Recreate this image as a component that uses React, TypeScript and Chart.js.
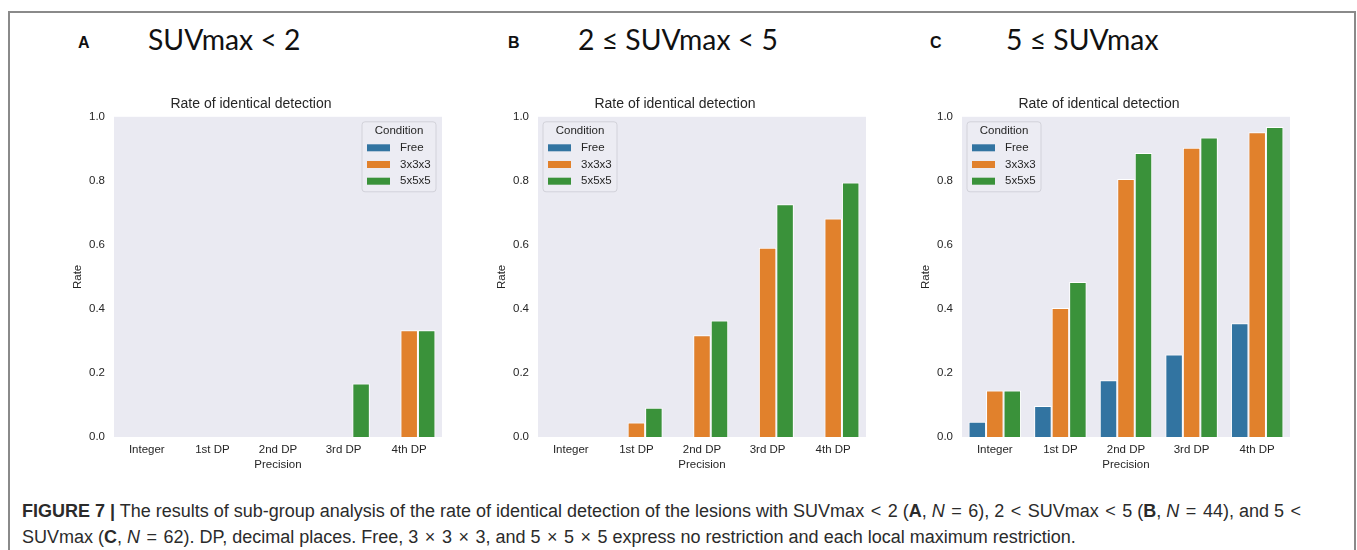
import React, { useEffect, useRef } from "react";
import { Chart, registerables } from "chart.js";

Chart.register(...registerables);

// ---------- DATA ----------
const categories = ["Integer", "1st DP", "2nd DP", "3rd DP", "4th DP"];
const conditions = ["Free", "3x3x3", "5x5x5"];
const yTickValues = [0, 0.2, 0.4, 0.6, 0.8, 1.0];

const panelAFree = [0, 0, 0, 0, 0];
const panelA3x3x3 = [0, 0, 0, 0, 0.333];
const panelA5x5x5 = [0, 0, 0, 0.167, 0.333];

const panelBFree = [0, 0, 0, 0, 0];
const panelB3x3x3 = [0, 0.045, 0.318, 0.591, 0.682];
const panelB5x5x5 = [0, 0.091, 0.364, 0.727, 0.795];

const panelCFree = [0.048, 0.097, 0.177, 0.258, 0.355];
const panelC3x3x3 = [0.145, 0.403, 0.806, 0.903, 0.952];
const panelC5x5x5 = [0.145, 0.484, 0.887, 0.935, 0.968];

const colors = ["#3274a1", "#e1812c", "#3a923a"];

const FONT = '"Liberation Sans", Arial, Helvetica, sans-serif';
const TEXT = "#262626";

// ---------- PLUGINS ----------
const bgPlugin = {
  id: "plotBg",
  beforeDatasetsDraw(chart: any) {
    const { ctx, chartArea } = chart;
    ctx.save();
    ctx.fillStyle = "#eaeaf2";
    ctx.fillRect(chartArea.left, chartArea.top, chartArea.right - chartArea.left, chartArea.bottom - chartArea.top);
    ctx.restore();
  },
};

const insideLegend = {
  id: "insideLegend",
  afterDraw(chart: any, _args: any, opts: any) {
    const { ctx, chartArea } = chart;
    const w = 74;
    const h = 70;
    const x = opts.side === "right" ? chartArea.right - 6 - w : chartArea.left + 5;
    const y = chartArea.top + 5;
    ctx.save();
    const r = 3;
    ctx.beginPath();
    ctx.moveTo(x + r, y);
    ctx.lineTo(x + w - r, y);
    ctx.arcTo(x + w, y, x + w, y + r, r);
    ctx.lineTo(x + w, y + h - r);
    ctx.arcTo(x + w, y + h, x + w - r, y + h, r);
    ctx.lineTo(x + r, y + h);
    ctx.arcTo(x, y + h, x, y + h - r, r);
    ctx.lineTo(x, y + r);
    ctx.arcTo(x, y, x + r, y, r);
    ctx.closePath();
    ctx.fillStyle = "rgba(236,236,243,0.9)";
    ctx.fill();
    ctx.strokeStyle = "#d2d2da";
    ctx.lineWidth = 1;
    ctx.stroke();
    ctx.font = `11.5px ${FONT}`;
    ctx.fillStyle = TEXT;
    ctx.textAlign = "center";
    ctx.textBaseline = "middle";
    ctx.fillText("Condition", x + w / 2, y + 9.5);
    chart.data.datasets.forEach((ds: any, i: number) => {
      const cy = y + 26 + i * 16.7;
      ctx.fillStyle = ds.backgroundColor;
      ctx.fillRect(x + 5, cy - 3.5, 23, 7);
      ctx.fillStyle = TEXT;
      ctx.textAlign = "left";
      ctx.fillText(ds.label, x + 38, cy);
    });
    ctx.restore();
  },
};

// ---------- PANEL ----------
function Panel(props: { left: number; series: number[][]; side: "left" | "right" }) {
  const ref = useRef<HTMLCanvasElement | null>(null);
  useEffect(() => {
    if (!ref.current) return;
    const tickFont = { family: FONT, size: 11.5 };
    const chart = new Chart(ref.current, {
      type: "bar",
      data: {
        labels: categories,
        datasets: conditions.map((c, i) => ({
          label: c,
          data: props.series[i],
          backgroundColor: colors[i],
          borderColor: "#ffffff",
          borderWidth: 1,
          categoryPercentage: 0.8,
          barPercentage: 1.0,
        })),
      },
      options: {
        animation: false,
        responsive: false,
        devicePixelRatio: 1,
        layout: { padding: { left: 0, right: 18, top: 0, bottom: 0 } },
        plugins: {
          legend: { display: false },
          tooltip: { enabled: false },
          title: {
            display: true,
            text: "Rate of identical detection",
            color: TEXT,
            font: { family: FONT, size: 14, weight: "normal" },
            padding: { top: 8, bottom: 4 },
          },
          insideLegend: { side: props.side },
        } as any,
        scales: {
          x: {
            grid: { display: false, drawTicks: false },
            border: { display: false },
            ticks: { font: tickFont, color: TEXT, padding: 6, maxRotation: 0, autoSkip: false },
            title: { display: true, text: "Precision", color: TEXT, font: tickFont, padding: { top: 0, bottom: 8 } },
            afterFit: (s: any) => {
              s.height = 43;
            },
          },
          y: {
            min: 0,
            max: 1,
            afterBuildTicks: (s: any) => {
              s.ticks = yTickValues.map((v) => ({ value: v }));
            },
            ticks: {
              font: tickFont,
              color: TEXT,
              padding: 9,
              callback: (v: any) => Number(v).toFixed(1),
            },
            grid: { display: false, drawTicks: false },
            border: { display: false },
            title: { display: true, text: "Rate", color: TEXT, font: tickFont, padding: { top: 11, bottom: 0 } },
            afterFit: (s: any) => {
              s.width = 54;
            },
          },
        },
      } as any,
      plugins: [bgPlugin, insideLegend],
    });
    return () => chart.destroy();
  }, []);
  return (
    <canvas
      ref={ref}
      width={400}
      height={392}
      style={{ position: "absolute", left: props.left, top: 88, width: 400, height: 392 }}
    />
  );
}

const headerStyle: React.CSSProperties = {
  position: "absolute",
  top: 25,
  fontFamily: "Lato, 'Open Sans', sans-serif",
  fontSize: 28.3,
  lineHeight: "29px",
  color: "#111",
  whiteSpace: "nowrap",
};
const letterStyle: React.CSSProperties = {
  position: "absolute",
  top: 35,
  fontFamily: FONT,
  fontWeight: "bold",
  fontSize: 16,
  lineHeight: "16px",
  color: "#111",
};

const M = (s: string) => <span style={{ margin: "0 1.5px" }}>{s}</span>;

export default function App() {
  return (
    <div
      style={{
        position: "absolute",
        left: 0,
        top: 0,
        width: 1357,
        height: 550,
        background: "#fff",
        overflow: "hidden",
      }}
    >
      <div
        style={{
          position: "absolute",
          left: 8,
          top: 11,
          width: 1348,
          height: 700,
          boxSizing: "border-box",
          borderLeft: "2px solid #8a8a8a",
          borderTop: "2px solid #8a8a8a",
          borderRight: "2px solid #8a8a8a",
        }}
      />
      <div style={{ ...letterStyle, left: 78 }}>A</div>
      <div style={{ ...headerStyle, left: 148 }}>SUVmax &lt; 2</div>
      <div style={{ ...letterStyle, left: 508 }}>B</div>
      <div style={{ ...headerStyle, left: 578 }}>2 ≤ SUVmax &lt; 5</div>
      <div style={{ ...letterStyle, left: 930 }}>C</div>
      <div style={{ ...headerStyle, left: 1006 }}>5 ≤ SUVmax</div>

      <Panel left={60} series={[panelAFree, panelA3x3x3, panelA5x5x5]} side="right" />
      <Panel left={484} series={[panelBFree, panelB3x3x3, panelB5x5x5]} side="left" />
      <Panel left={908} series={[panelCFree, panelC3x3x3, panelC5x5x5]} side="left" />

      <div
        style={{
          position: "absolute",
          left: 22,
          top: 498,
          fontFamily: FONT,
          fontSize: 18,
          lineHeight: "26px",
          color: "#2b2b2b",
          whiteSpace: "nowrap",
        }}
      >
        <b>FIGURE 7 |</b> The results of sub-group analysis of the rate of identical detection of the lesions with SUVmax {M("<")} 2 (
        <b>A</b>, <i>N</i> {M("=")} 6), 2 {M("<")} SUVmax {M("<")} 5 (<b>B</b>, <i>N</i> {M("=")} 44), and 5 {M("<")}
        <br />
        SUVmax (<b>C</b>, <i>N</i> {M("=")} 62). DP, decimal places. Free, 3 {M("×")} 3 {M("×")} 3, and 5 {M("×")} 5 {M("×")} 5
        express no restriction and each local maximum restriction.
      </div>
    </div>
  );
}
